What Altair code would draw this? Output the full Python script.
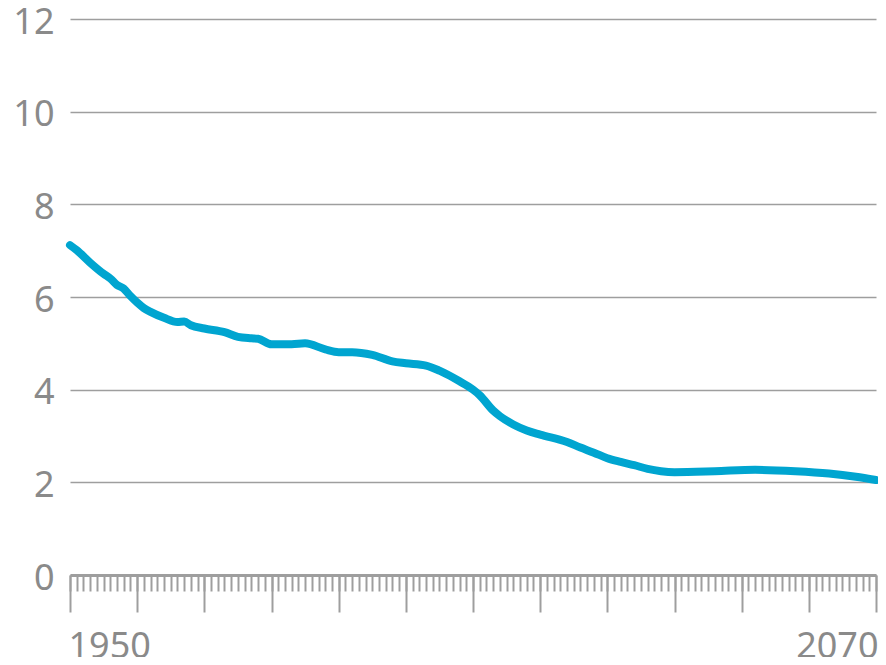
import altair as alt
import pandas as pd

years = [1950, 1951, 1953, 1955, 1956, 1957, 1958, 1959, 1960, 1961, 1962, 1964,
         1966, 1967, 1968, 1970, 1973, 1975, 1977, 1978, 1980, 1983, 1985, 1988,
         1990, 1992, 1995, 1998, 2000, 2003, 2005, 2008, 2010, 2011, 2013, 2014,
         2016, 2018, 2020, 2024, 2026, 2028, 2030, 2032, 2034, 2036, 2038, 2040,
         2046, 2052, 2058, 2063, 2067, 2070]
values = [7.12, 7.01, 6.74, 6.50, 6.40, 6.26, 6.18, 6.02, 5.88, 5.76, 5.68, 5.55,
          5.46, 5.47, 5.39, 5.32, 5.24, 5.14, 5.11, 5.10, 4.98, 4.98, 5.00, 4.87,
          4.81, 4.81, 4.75, 4.61, 4.57, 4.52, 4.41, 4.18, 4.00, 3.88, 3.55, 3.43,
          3.25, 3.12, 3.03, 2.87, 2.75, 2.64, 2.52, 2.44, 2.37, 2.29, 2.24, 2.22,
          2.24, 2.27, 2.24, 2.19, 2.12, 2.05]

major_ticks = list(range(1950, 2071, 10))
minor_ticks = list(range(1950, 2071, 1))
y_ticks = [0, 2, 4, 6, 8, 10, 12]

df = pd.DataFrame({"year": years, "value": values})

FONT = "Noto Sans"
GRAY = "#8a8a8a"
AXIS_GRAY = "#9e9e9e"

xscale = alt.Scale(domain=[1950, 2070], nice=False, zero=False)
yscale = alt.Scale(domain=[0, 12], nice=False)

minor = alt.Chart(df).mark_line(opacity=0).encode(
    x=alt.X("year:Q", scale=xscale, title=None,
            axis=alt.Axis(orient="bottom", values=minor_ticks, labels=False,
                          tickSize=16, tickWidth=2, tickColor=AXIS_GRAY,
                          domain=False, grid=False)),
    y=alt.Y("value:Q", scale=yscale, title=None,
            axis=alt.Axis(orient="left", values=y_ticks, labelFont=FONT,
                          labelFontSize=36, labelColor=GRAY, labelPadding=16,
                          labelOffset=3, ticks=False, domain=False, grid=True,
                          gridColor=AXIS_GRAY, gridWidth=1.5)),
)

line = alt.Chart(df).mark_line(
    color="#00a5d0", strokeWidth=8, strokeCap="round", strokeJoin="round",
    interpolate="monotone"
).encode(
    x=alt.X("year:Q", scale=xscale, title=None,
            axis=alt.Axis(orient="bottom", values=major_ticks, format="d",
                          labelExpr="(datum.value == 1950 || datum.value == 2070) ? datum.label : ''",
                          labelFlush=True, labelFlushOffset=2, labelFont=FONT,
                          labelFontSize=36, labelColor=GRAY, labelPadding=17,
                          labelOverlap=False,
                          tickSize=37, tickWidth=2, tickColor=AXIS_GRAY,
                          domain=True, domainColor=AXIS_GRAY, domainWidth=3,
                          grid=False)),
    y=alt.Y("value:Q", scale=yscale, title=None),
)

chart = alt.layer(minor, line).resolve_axis(x="independent").properties(
    width=806, height=556,
    autosize=alt.AutoSizeParams(type="none"),
    padding={"left": 62, "top": 11, "right": 2, "bottom": 82},
).configure_view(stroke=None)

chart.save("out.html", embed_options={"renderer": "svg", "actions": False})
